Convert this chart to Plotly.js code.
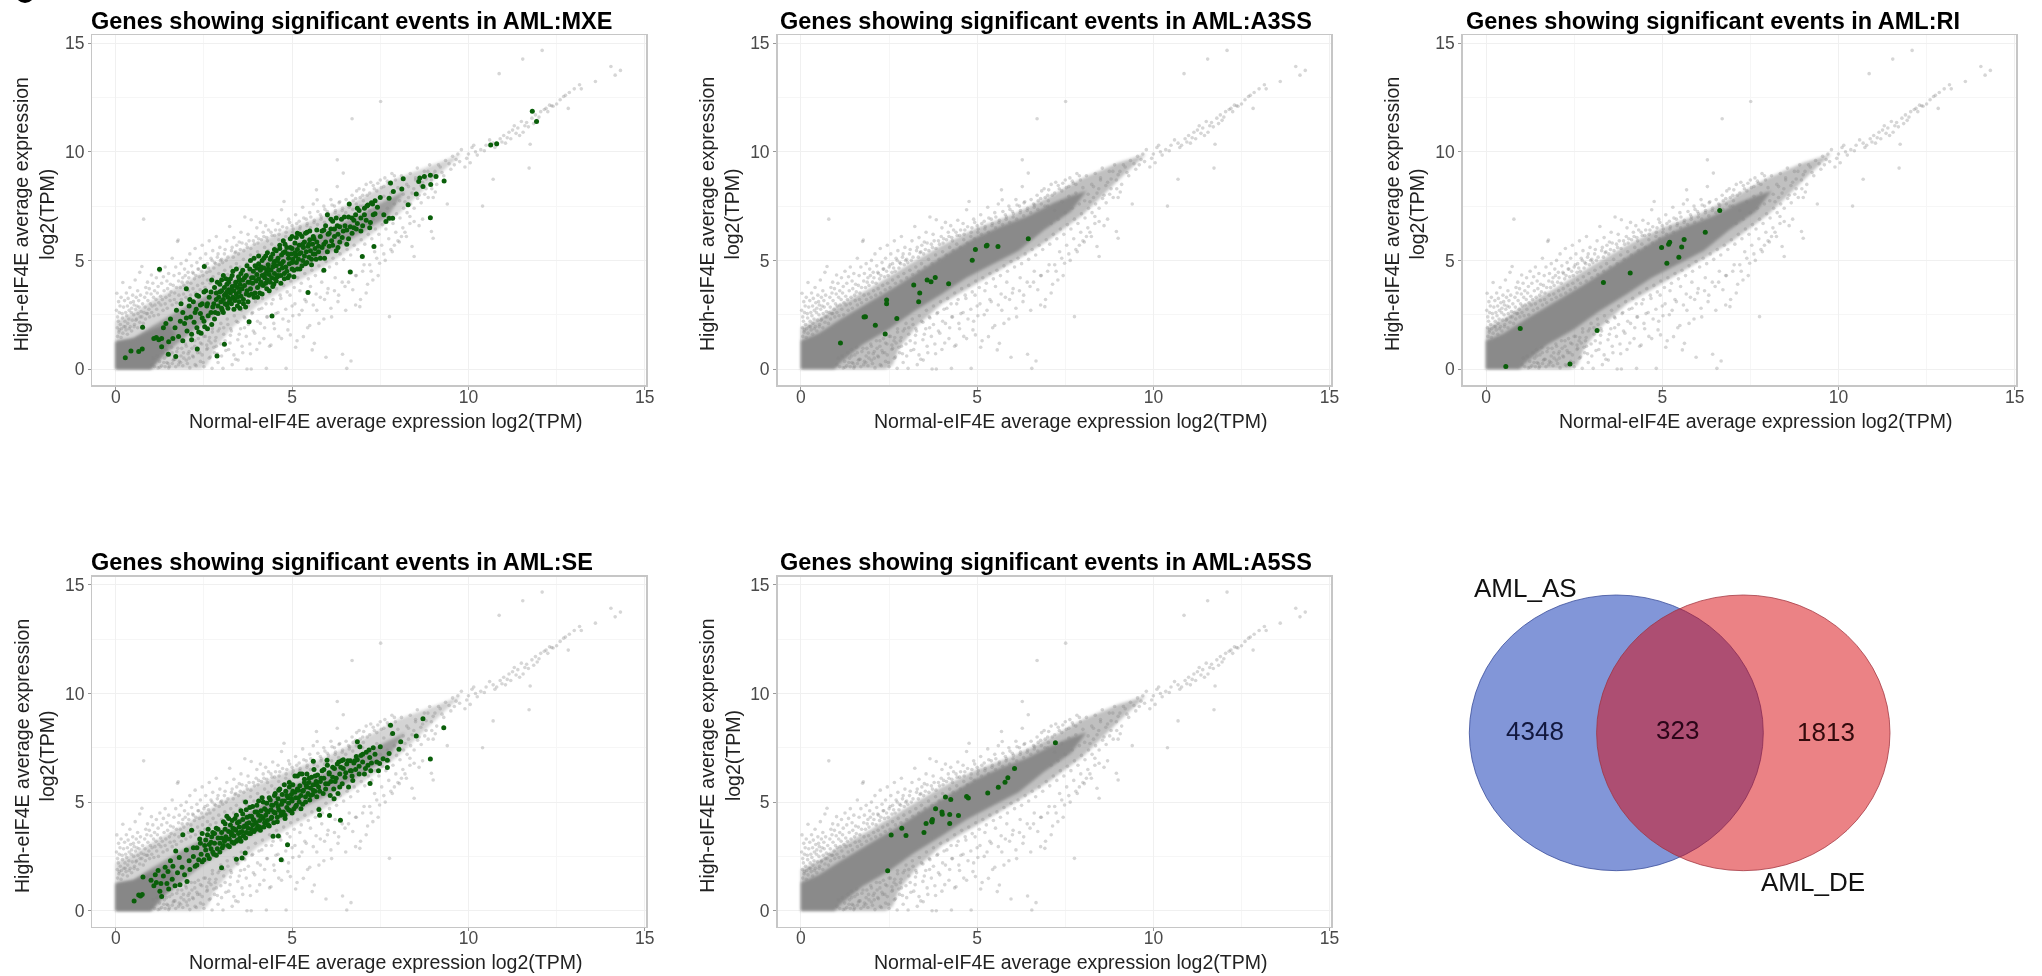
<!DOCTYPE html>
<html><head><meta charset="utf-8">
<script src="https://cdn.plot.ly/plotly-3.0.1.min.js"></script>
<style>html,body{margin:0;padding:0;background:#fff;overflow:hidden}#chart{width:2042px;height:976px;filter:blur(0.45px)}</style>
</head><body><div id="chart"></div>
<script>
// ---------- data ----------
const panelNames = ["MXE","A3SS","RI","SE","A5SS"];
const xAxisTitle = "Normal-eIF4E average expression log2(TPM)";
const yAxisTitle = "High-eIF4E average expression<br>log2(TPM)";
const tickValues = [0,5,10,15];

// background genes, shared by all five panels
const grayX = [
 .02,.03,.05,.08,.1,.12,.15,.18,.2,.22,.25,.28,.3,.33,.35,.38,.4,.42,.45,.48,.5,.52,.55,.58,.6,.62,.65,.68,.7,.74,.79,.82,.85,.88,.9,.95,1.0,1.01,1.05,1.1,1.15,1.2,1.25,1.3,1.35,1.4,1.45,1.5,1.55,1.6,1.65,1.7,1.75,1.77,1.8,1.85,1.9,1.95,2.0,2.05,2.1,2.15,2.2,2.25,2.3,2.35,2.4,2.45,2.5,2.55,2.6,2.65,2.7,2.75,2.8,2.85,2.9,2.95,
 3.0,3.1,3.15,3.23,3.3,3.35,3.4,3.5,3.55,3.66,3.7,3.75,3.84,3.9,4.0,4.05,4.1,4.2,4.25,4.3,4.4,4.45,4.5,4.6,4.65,4.7,4.77,4.85,4.9,5.0,5.1,5.2,5.3,5.4,5.5,5.6,5.69,5.71,5.8,5.9,6.0,6.1,6.2,6.28,6.28,6.35,6.45,6.6,6.7,6.8,6.9,7.0,7.1,7.2,7.3,7.4,7.5,7.6,7.7,7.8,7.9,
 1.2,1.3,1.4,1.45,1.5,1.6,1.65,1.7,1.8,1.85,1.9,2.0,2.05,2.1,2.2,2.25,2.3,2.4,2.45,2.5,2.6,2.65,2.7,2.73,2.8,2.85,2.9,3.0,3.04,3.1,3.2,3.25,3.3,3.4,3.47,3.5,3.6,3.65,3.72,3.8,3.84,3.9,4.0,4.1,4.2,4.27,4.3,4.4,4.5,4.6,4.7,4.83,4.9,4.95,5.0,5.1,5.2,5.32,5.4,5.5,5.57,5.63,5.7,5.8,5.9,5.96,6.0,6.1,6.2,6.3,6.43,6.5,6.55,6.6,6.67,6.8,6.8,6.92,7.0,7.1,7.2,7.29,7.4,7.48,7.6,7.76,7.8,7.9,8.0,8.1,8.2,8.34,8.4,8.46,8.46,8.6,8.7,8.95,9.0,
 8.1,8.2,8.3,8.35,8.4,8.5,8.55,8.6,8.7,8.75,8.8,8.9,8.95,9.0,9.05,9.1,9.2,9.3,9.35,9.4,9.5,9.55,9.6,9.7,9.75,9.8,9.9,9.95,10.05,10.1,10.2,10.35,10.4,10.5,10.7,10.7,10.8,10.87,10.9,11.0,11.05,11.15,11.2,11.3,11.35,11.4,11.5,11.54,11.55,11.6,11.65,11.72,11.75,11.8,11.9,12.0,12.05,12.09,12.15,12.25,12.3,12.36,12.4,12.6,12.7,12.75,12.83,12.86,13.0,13.15,13.2,13.6,14.04,14.16,14.31,7.51,6.7];
const grayY = [
 2.7,3.49,2.4,3.1,2.6,2.9,3.3,2.55,3.98,2.85,3.15,2.6,3.5,2.9,3.25,2.7,3.75,3.05,2.8,3.4,3.1,2.95,4.1,3.3,2.9,3.6,3.15,4.45,3.4,4.72,6.9,3.3,3.75,3.5,4.0,3.7,3.45,4.33,3.95,3.6,4.2,3.8,4.5,3.95,4.25,4.7,4.05,4.4,3.9,5.1,4.3,4.7,5.87,5.94,4.4,4.85,4.2,4.6,5.0,4.45,5.3,4.75,4.4,5.55,4.9,4.6,5.1,5.7,4.7,5.3,4.85,5.9,5.1,5.45,4.9,6.1,5.3,5.6,
 5.05,5.5,5.9,6.56,5.6,6.05,5.4,5.85,6.3,7.0,5.75,6.2,6.87,5.9,6.5,6.0,6.75,6.1,6.6,5.9,6.3,6.85,6.15,6.7,6.4,7.33,7.71,6.5,6.9,6.6,7.1,6.8,7.45,6.9,7.2,7.6,8.25,7.79,7.1,7.5,7.25,7.8,7.5,9.63,8.4,7.7,9.02,7.6,8.0,7.85,8.3,8.0,8.5,8.1,8.45,8.2,8.7,8.4,8.65,8.5,8.9,
 .05,.15,.1,.3,.05,.25,.45,.1,.35,.6,.15,.4,.7,.05,.55,.2,.85,.35,.65,.1,.95,.5,1.2,.03,.75,1.05,.3,.6,.03,1.3,.9,1.55,.2,.45,.41,1.6,.75,1.9,0,1.15,0,1.75,.9,2.1,1.4,.03,2.4,1.1,1.85,2.6,1.4,.03,2.2,1.57,2.9,1.0,2.5,1.49,3.1,2.0,.88,1.18,2.7,3.3,2.3,.54,3.5,2.8,3.6,3.1,.68,3.8,.03,4.0,.37,2.95,4.3,2.87,4.5,3.5,4.8,4.1,5.1,4.87,5.3,2.41,5.5,5.7,5.9,6.1,6.3,7.02,5.64,5.18,6.79,6.6,6.9,6.33,6.02,
 8.9,7.7,8.4,9.0,8.1,8.7,9.25,8.0,8.6,9.1,8.3,9.4,8.7,7.9,9.1,8.5,9.3,8.9,9.6,7.6,9.2,9.8,9.4,9.9,9.55,10.1,9.3,9.7,9.5,10.2,10.0,10.1,7.5,10.3,8.74,10.4,10.3,13.6,10.6,10.75,10.4,10.9,10.6,11.2,10.85,11.1,11.4,14.27,10.9,11.2,11.35,9.25,10.35,11.55,11.7,11.6,11.85,14.67,11.95,11.85,12.15,12.12,12.1,12.4,12.55,12.6,12.0,12.73,12.9,13.09,12.9,13.24,13.93,13.53,13.75,12.32,11.52];
// more background genes: above the band
const grayAboveX = [.04,.07,.09,.13,.16,.19,.23,.26,.29,.31,.34,.37,.41,.44,.47,.51,.53,.56,.59,.63,.66,.69,.72,.76,.8,.83,.87,.91,.94,.98,1.03,1.07,1.11,1.14,1.18,1.22,1.27,1.32,1.37,1.42,1.47,1.52,1.57,1.63,1.67,1.72,1.78,1.83,1.88,1.93,1.97,2.03,2.07,2.13,2.18,2.23,2.27,2.33,2.37,2.43,2.47,2.53,2.58,2.63,2.67,2.73,2.78,2.83,2.88,2.93,2.97,3.03,3.08,3.13,3.18,3.28,3.33,3.38,3.43,3.48,3.53,3.58,3.63,3.73,3.78,3.83,3.93,3.98,4.03,4.13,4.18,4.28,4.33,4.43,4.53,4.63,4.73,4.83,4.93,5.03,5.13,5.23,5.33,5.43,5.53,5.63,5.73,5.83,5.93,6.03,6.13,6.23,6.33,6.43,6.53,6.63,6.73,6.83,6.93,7.03,7.13,7.23,7.33,7.43,7.53,7.63,7.73,7.83,7.93];
const grayAboveY = [1.9,2.2,1.7,2.05,1.85,2.35,1.95,2.2,1.8,2.45,2.1,2.3,1.95,2.6,2.25,2.5,2.05,2.75,2.3,2.55,2.85,2.4,2.65,3.0,2.6,2.85,2.55,3.15,2.75,3.0,2.9,3.3,2.95,3.2,3.5,3.05,3.35,3.2,3.6,3.3,3.7,3.4,3.55,3.85,3.5,3.75,4.05,3.75,4.0,3.85,4.3,4.0,4.2,3.95,4.45,4.15,4.3,4.6,4.25,4.5,4.3,4.8,4.45,4.65,4.5,5.0,4.65,4.85,5.15,4.8,5.0,4.9,5.3,5.0,5.15,5.45,5.15,5.35,5.7,5.3,5.5,5.8,5.45,5.6,5.9,5.55,5.75,6.1,5.8,5.95,6.3,6.05,6.4,6.15,6.4,6.2,6.55,6.3,6.75,6.45,6.7,6.55,6.95,6.7,7.0,6.85,7.25,7.0,7.35,7.15,7.55,7.3,7.65,7.4,7.8,7.55,7.75,8.2,7.9,8.25,8.0,8.6,8.3,8.55,8.35,8.8,8.55,9.0,8.7];
// below the band
const grayBelowX = [1.02,1.06,1.1,1.17,1.24,1.33,1.38,1.43,1.48,1.53,1.58,1.63,1.73,1.78,1.87,1.93,1.98,2.03,2.08,2.14,2.18,2.24,2.28,2.34,2.38,2.44,2.48,2.54,2.58,2.64,2.68,2.74,2.78,2.84,2.88,2.94,2.98,3.06,3.12,3.18,3.24,3.28,3.35,3.42,3.46,3.54,3.58,3.64,3.7,3.76,3.82,3.88,3.94,4.02,4.08,4.14,4.22,4.28,4.36,4.42,4.48,4.54,4.62,4.68,4.74,4.82,4.88,4.94,5.02,5.08,5.14,5.22,5.28,5.36,5.44,5.52,5.6,5.68,5.76,5.84,5.92,6.02,6.12,6.22,6.32,6.42,6.52,6.62,6.72,6.82,6.94,7.04,7.14,7.24,7.34,7.44,7.54,7.64,7.74,7.84,7.94,8.04,8.14,8.24,8.34];
const grayBelowY = [.2,.5,.1,.6,.35,.75,.5,.9,.25,.65,1.0,.4,.8,.2,.95,.5,1.15,.25,.8,1.3,.6,1.05,.15,1.4,.75,1.15,.3,1.5,.9,1.3,.55,1.7,1.0,1.45,.7,1.85,1.15,1.6,.85,2.05,1.2,1.75,.65,2.2,1.35,1.85,1.05,2.4,1.5,2.05,.7,2.6,1.65,2.2,1.2,2.8,1.9,2.4,1.05,3.0,2.1,2.55,1.5,3.25,2.3,2.75,1.8,3.4,2.45,3.0,1.3,3.6,2.7,3.2,1.9,3.8,2.95,3.45,2.1,4.0,3.2,3.7,2.4,4.2,3.4,4.0,2.7,4.5,3.65,4.3,3.2,4.8,3.9,4.5,5.4,4.3,5.7,5.0,6.0,5.4,6.3,5.85,6.5,6.1,6.7];
// along the thin tail of the band
const grayTailX = [7.0,7.1,7.2,7.3,7.4,7.5,7.6,7.7,7.8,7.9,8.0,8.05,8.15,8.25,8.3,8.45,8.5,8.65,8.8,8.85,9.0,9.15,9.25,9.45,9.65,10.0,10.15,10.25,10.45,10.6,10.75,10.95,11.1,11.25,11.45,11.7,11.85,11.95,12.2,12.5];
const grayTailY = [7.5,6.7,7.3,6.9,7.7,7.2,7.95,7.4,8.1,7.6,8.35,7.75,8.05,8.5,7.9,8.3,8.8,8.45,8.75,9.1,8.95,9.4,9.05,9.45,9.65,9.9,10.3,9.85,10.05,10.55,10.2,10.45,10.65,11.0,10.75,11.15,11.3,11.45,12.0,12.2];
// hugging the upper and lower rim of the band
const grayUpperRimX = [.05,.1,.15,.2,.27,.33,.38,.45,.52,.57,.62,.68,.74,.78,.84,.9,.96,1.02,1.08,1.16,1.21,1.28,1.34,1.4,1.46,1.54,1.6,1.66,1.72,1.79,1.86,1.92,1.99,2.06,2.12,2.19,2.26,2.32,2.39,2.46,2.53,2.6,2.68,2.76,2.84,2.92,3.0,3.09,3.17,3.26,3.34,3.42,3.52,3.62,3.72,3.82,3.92,4.02,4.12,4.22,4.32,4.42,4.52,4.62,4.72,4.82,4.92,5.02,5.12,5.22,5.32,5.42,5.52,5.62,5.72,5.82,5.92,6.02,6.12,6.22,6.32,6.42,6.52,6.62,6.72,6.82,6.92,7.02];
const grayUpperRimY = [1.5,1.8,1.45,1.65,1.95,1.6,1.85,1.75,1.95,2.25,1.9,2.15,2.4,2.1,2.3,2.55,2.4,2.6,2.45,2.75,2.5,2.95,2.7,3.0,2.8,3.15,2.95,3.2,3.05,3.4,3.2,3.45,3.3,3.6,3.4,3.7,3.5,3.85,3.65,3.95,3.75,4.1,3.95,4.25,4.05,4.4,4.2,4.55,4.35,4.7,4.5,4.85,4.7,5.05,4.85,5.25,5.05,5.4,5.25,5.6,5.45,5.75,5.6,5.95,5.8,6.1,6.0,6.3,6.2,6.45,6.3,6.6,6.5,6.75,6.65,6.9,6.75,7.0,6.9,7.2,7.05,7.3,7.2,7.45,7.35,7.6,7.5,7.75];
const grayLowerRimX = [1.25,1.36,1.44,1.52,1.6,1.68,1.76,1.84,1.92,2.0,2.08,2.16,2.24,2.32,2.4,2.5,2.58,2.66,2.74,2.82,2.9,2.98,3.06,3.16,3.26,3.36,3.46,3.56,3.66,3.76,3.86,3.96,4.06,4.16,4.26,4.36,4.46,4.56,4.66,4.76,4.86,4.96,5.06,5.16,5.26,5.36,5.46,5.56,5.66,5.76,5.86,5.96,6.06,6.16,6.26,6.36,6.46,6.56,6.66,6.76,6.86,6.96,7.06,7.16,7.26,7.36,7.46,7.56,7.66,7.76,7.86,7.96,8.06,8.16,8.26,8.36,8.46,8.56,8.66,8.76,8.86,8.96,9.06];
const grayLowerRimY = [.08,.3,.6,.12,.75,.45,.95,.3,.75,1.05,.5,.95,1.3,.75,1.2,1.5,1.1,1.45,1.85,1.3,1.75,2.1,1.9,2.3,1.85,2.45,2.15,2.7,2.35,2.9,2.55,3.1,2.75,3.25,3.0,3.5,3.2,3.7,3.4,3.85,3.55,4.05,3.75,4.2,3.95,4.4,4.15,4.55,4.3,4.75,4.5,4.95,4.7,5.1,4.85,5.3,5.05,5.5,5.25,5.7,5.5,5.95,5.75,6.2,6.0,6.45,6.2,6.65,6.45,6.9,6.7,7.15,6.95,7.4,7.2,7.6,7.4,7.85,7.65,8.05,7.9,8.3,8.15];

// outlines of the densely overplotted band (panels A3SS, RI, A5SS)
const denseCoreX = [0,.5,1.13,2,2.73,3.47,4.2,4.95,5.7,6.43,7.17,7.7,8.1,7.66,6.9,6.18,5.44,4.7,4,3.2,2.49,1.75,1.13,.95,0];
const denseCoreY = [1.3,1.65,2.3,3.15,3.85,4.62,5.35,6.05,6.6,7.05,7.65,8.0,8.2,7.25,6.4,5.45,4.82,4.2,3.45,2.65,1.82,1.13,.3,0,0];
const denseHaloX = [0,.5,1,2,3,4,5,6,7,8,9,9.8,9.2,8,7,6,5,4,3.3,2.8,2.6,2.4,0];
const denseHaloY = [1.9,2.3,2.85,3.75,4.75,5.7,6.5,7.1,7.9,8.8,9.5,9.9,9.0,7.1,5.9,4.9,3.95,3,2,1,.2,0,0];
// outlines of the thinner band (panels MXE, SE)
const thinCoreX = [0,.5,1,2,3,4,5,6,7,7.7,8.2,7.7,7,6,5,4,3,2.3,1.7,1.2,1,0];
const thinCoreY = [1.25,1.4,1.95,2.9,3.75,4.75,5.75,6.4,7.2,7.8,8.2,7,6.3,5.3,4.5,3.6,2.7,1.9,1.1,.35,0,0];
const thinBaseX = [0,0,.5,1,1.5,1.7,1.3,1,0];
const thinBaseY = [0,1.25,1.4,1.8,2.1,1.6,.6,0,0];
const thinHaloX = [0,.5,1,2,3,4,5,6,7,8,9,9.8,9.2,8,7,6,5,4,3.3,2.8,2.6,2.4,0];
const thinHaloY = [2.2,2.6,3.1,4,5,5.8,6.5,7.1,7.9,8.8,9.4,9.9,9.0,7.1,5.9,4.8,3.9,2.9,1.9,.9,.2,0,0];

// significant genes per panel
const mxeX = [11.81,11.93,10.63,10.8,9.31,9.08,8.92,8.75,8.62,8.59,8.93,8.71,8.52,8.92,8.15,8.11,7.79,7.87,7.75,8.29,7.85,7.75,7.66,7.6,7.32,6.99,6.65,5.9,5.45,4.43,3.78,1.24,2.51,2.87,3.08,2.31,.76,.27,.43,.65,.75,1.7,1.49,1.3,
 1.08,1.15,1.22,1.3,1.35,1.42,1.5,1.55,1.62,1.68,1.72,1.78,1.83,1.85,1.9,1.95,2.0,2.02,2.08,2.12,2.15,2.2,2.22,2.28,2.3,2.35,2.4,2.42,2.45,2.5,2.55,2.58,2.6,2.65,2.7,2.72,2.78,2.8,
 2.85,2.88,2.9,2.92,2.95,2.98,3.0,3.02,3.05,3.05,3.08,3.1,3.12,3.15,3.15,3.18,3.2,3.22,3.25,3.25,3.28,3.3,3.32,3.32,3.35,3.38,3.4,3.42,3.45,3.45,3.48,3.5,3.5,3.52,3.55,3.55,3.58,3.6,3.62,3.65,3.68,3.7,3.72,3.75,3.78,
 3.8,3.82,3.85,3.88,3.9,3.92,3.95,3.98,4.0,4.02,4.05,4.05,4.08,4.1,4.12,4.15,4.15,4.18,4.2,4.22,4.25,4.25,4.28,4.3,4.32,4.35,4.35,4.38,4.4,4.42,4.45,4.45,4.48,4.5,4.5,4.52,4.55,4.55,4.58,4.6,4.62,4.65,4.65,4.68,4.7,4.72,4.75,4.75,4.78,4.8,
 4.82,4.85,4.88,4.9,4.92,4.95,4.98,5.0,5.0,5.02,5.05,5.08,5.1,5.12,5.15,5.15,5.18,5.2,5.22,5.25,5.28,5.3,5.32,5.35,5.38,5.4,5.42,5.45,5.48,5.5,5.52,5.55,5.58,5.6,5.62,5.65,5.68,5.7,
 5.75,5.8,5.85,5.9,5.92,5.95,6.0,6.02,6.05,6.1,6.12,6.15,6.2,6.25,6.28,6.3,6.35,6.4,6.45,6.5,6.55,6.6,6.62,6.65,6.7,6.75,6.8,6.82,6.85,6.9,6.95,7.0,7.05,7.1,7.15,7.2,7.25,7.3,7.35,7.42,7.5,
 1.9,2.0,2.1,2.15,2.25,2.3,2.35,2.4,2.45,2.5,2.52,2.6,2.62,2.7,2.72,2.75,2.8,2.82,2.85,2.9,2.95,3.0,3.0,3.05,3.08,3.12,3.15,3.18,3.2,3.25,3.28,3.3,3.35,3.38,3.42,3.45,3.5,3.52,3.55,3.6,3.62,3.65,3.7,3.72,3.75,3.8,3.82,3.85,3.9,3.92,3.95,4.0,4.02,4.05,4.1,4.12,4.15,4.2,4.22,4.28,4.3,4.32,4.38,4.4,4.45,4.48,4.5,4.55,4.58,4.6,4.65,4.68,4.7,4.75,4.78,4.8,4.85,4.88,4.92,4.95,5.0,5.0,5.05,5.08,5.12,5.15,5.2,5.22,5.28,5.3,5.35,5.38,5.42,5.48,5.5,5.55,5.6,5.65,5.7,5.75,5.8,5.85,5.9,5.95,6.0,6.05,6.1,6.15,6.2,6.25,6.3,6.35,6.42,6.48,6.55,6.6,6.7,6.75,6.85,6.95,7.05,7.12,7.22,7.28,7.35];
const mxeY = [11.87,11.4,10.32,10.37,8.66,8.86,8.92,8.86,8.79,8.63,8.49,8.4,8.06,6.97,8.76,8.29,8.56,8.17,7.86,7.56,6.94,6.94,6.79,7.1,5.64,5.18,4.47,4.55,3.52,2.44,2.18,4.59,4.72,.6,1.14,.92,1.92,.52,.83,.8,.92,.57,.68,1.03,
 1.4,1.45,1.35,1.4,1.9,2.1,1.25,2.3,1.4,1.9,2.7,1.5,2.2,3.0,2.6,2.1,3.7,1.75,2.9,2.4,1.6,3.1,2.15,2.75,1.9,3.35,2.55,1.65,3.0,2.2,3.6,2.9,1.85,3.3,2.6,4.1,3.0,2.3,
 3.5,4.0,2.9,3.3,3.9,3.1,3.6,2.7,3.2,4.3,3.75,3.0,3.45,3.9,2.95,3.3,3.65,3.1,4.15,3.5,3.0,3.8,3.3,4.5,3.6,3.15,4.0,3.45,3.75,2.9,4.25,3.55,3.1,3.9,4.4,3.35,3.7,4.1,3.2,3.85,2.85,4.3,3.6,4.0,3.4,
 4.6,3.7,4.2,3.95,4.5,3.3,4.75,4.05,4.35,3.75,4.85,4.15,3.5,4.55,4.0,5.0,4.3,3.85,4.65,4.2,5.2,3.95,4.5,4.1,4.8,4.35,3.6,5.05,4.55,4.2,5.3,4.7,3.9,4.95,4.4,4.15,5.45,4.75,4.25,5.1,4.55,5.7,4.85,4.3,5.25,4.65,5.9,4.95,4.4,5.4,
 4.7,5.6,4.2,5.1,4.85,6.0,5.3,4.6,5.55,5.05,4.25,5.8,5.2,4.9,6.25,5.5,5.05,5.7,4.6,5.35,6.1,5.0,5.6,5.85,4.85,5.4,6.3,5.65,5.15,5.95,5.45,4.8,5.75,5.3,6.0,5.55,5.05,5.85,
 5.4,6.1,5.6,6.4,5.1,5.85,7.1,6.2,5.65,6.45,5.9,6.8,6.1,5.45,6.6,6.2,5.85,6.9,6.35,6.6,5.75,7.0,7.6,6.55,6.25,6.85,7.1,6.45,6.7,7.3,6.95,6.6,7.4,6.85,7.55,6.5,7.65,7.1,7.75,7.45,7.9,
 1.3,2.35,3.2,1.35,2.6,3.4,1.7,2.95,2.35,3.55,1.95,3.0,2.45,3.55,2.05,2.85,3.75,2.6,3.2,2.55,3.55,2.8,4.1,2.6,3.4,4.15,3.55,2.8,4.0,3.2,3.65,4.3,2.75,3.85,4.6,3.3,4.1,2.8,3.7,4.55,3.0,4.2,3.45,4.75,3.1,4.0,5.0,3.45,4.2,5.1,3.5,4.65,3.3,5.2,3.9,4.7,3.45,5.1,4.35,3.7,5.35,4.6,4.0,5.15,3.8,4.85,5.5,4.05,5.0,4.3,5.55,3.95,4.85,5.35,4.15,5.75,4.5,5.3,4.3,5.6,4.9,6.1,4.55,5.35,6.05,4.6,5.3,6.2,4.75,5.75,5.2,6.25,4.9,5.75,6.35,5.05,6.1,5.3,6.4,5.65,5.1,6.35,5.75,6.6,5.4,6.25,6.9,5.7,6.45,6.95,5.6,6.55,6.05,7.0,6.4,6.0,6.95,6.5,7.4,6.35,7.1,7.5,6.75,7.6,7.15];
const a3ssX = [1.12,1.79,1.83,2.11,2.39,2.43,2.43,2.72,3.2,3.37,3.34,3.58,3.69,3.81,4.19,4.86,4.95,5.26,5.28,5.59,6.45];
const a3ssY = [1.2,2.4,2.41,2.01,1.61,3.18,3.01,2.33,3.87,3.5,3.1,4.1,4.02,4.21,3.92,5.01,5.5,5.66,5.7,5.64,6.0];
const riX = [.56,.97,2.38,3.15,3.33,4.09,4.98,5.13,5.18,5.21,5.47,5.55,5.62,6.22,6.63];
const riY = [.12,1.87,.23,1.77,3.98,4.42,5.59,4.87,5.74,5.84,5.15,5.62,5.96,6.3,7.3];
const seX = [9.3,8.92,8.71,8.52,8.08,8.03,7.79,7.85,7.75,7.7,7.7,7.48,7.45,7.23,7.21,6.85,6.92,5.99,5.6,6.37,6.06,5.78,5.76,6.19,4.87,4.69,4.61,4.46,3.67,3.58,3.42,3.0,.52,.65,.7,.75,.77,
 1.0,1.08,1.12,1.15,1.2,1.25,1.28,1.3,1.35,1.4,1.45,1.48,1.5,1.55,1.6,1.62,1.68,1.7,1.75,1.8,1.82,1.88,1.9,1.95,2.0,2.02,2.08,2.1,2.15,2.2,2.25,2.3,2.35,2.38,2.42,2.45,2.5,2.52,2.55,2.6,2.62,2.65,2.7,2.72,2.75,2.78,2.8,2.85,2.88,2.9,2.95,
 3.0,3.02,3.05,3.08,3.1,3.12,3.15,3.18,3.2,3.22,3.25,3.28,3.3,3.32,3.35,3.38,3.4,3.42,3.45,3.48,3.5,3.52,3.55,3.58,3.6,3.62,3.65,3.68,3.7,3.72,3.75,3.78,3.8,3.82,3.85,3.88,3.9,3.92,3.95,3.98,4.0,4.02,4.05,4.08,4.1,4.12,4.15,4.18,4.2,4.22,4.25,4.28,4.3,4.32,4.35,4.38,4.4,4.42,4.45,4.48,4.5,4.52,4.55,4.58,4.6,4.62,4.65,4.68,4.7,4.72,4.75,4.78,4.8,4.82,4.85,4.88,4.9,4.92,4.95,4.98,5.0,5.02,5.05,5.08,5.1,5.12,5.15,5.18,5.2,5.22,5.25,5.28,5.3,
 5.32,5.35,5.38,5.4,5.42,5.45,5.48,5.5,5.52,5.55,5.58,5.6,5.62,5.65,5.68,5.7,5.72,5.75,5.8,5.85,5.88,5.9,5.95,6.0,6.02,6.05,6.1,6.15,6.18,6.2,6.25,6.3,6.32,6.35,6.4,6.42,6.45,6.5,6.55,6.6,6.65,6.68,6.7,6.75,6.8,6.85,6.9,6.95,7.0,7.05,7.1,7.15,7.2,7.3,7.4,
 2.2,2.3,2.4,2.45,2.55,2.6,2.65,2.7,2.75,2.8,2.85,2.9,2.95,3.0,3.05,3.1,3.15,3.2,3.22,3.28,3.3,3.35,3.38,3.42,3.45,3.5,3.52,3.55,3.6,3.62,3.68,3.7,3.72,3.78,3.8,3.85,3.88,3.92,3.98,4.0,4.05,4.08,4.12,4.18,4.22,4.28,4.32,4.35,4.4,4.42,4.48,4.52,4.58,4.6,4.62,4.68,4.72,4.78,4.8,4.85,4.9,4.92,4.98,5.0,5.02,5.08,5.1,5.15,5.18,5.22,5.25,5.3,5.35,5.38,5.42,5.48,5.52,5.6,5.65,5.7,5.78,5.82,5.9,5.95,6.05,6.08,6.15,6.22,6.28,6.35,6.38,6.45,6.52,6.58,6.65,6.72,6.78,6.82,6.9,7.0,7.08,7.18,7.25,7.35,7.5,7.58];
const seY = [8.42,6.98,8.84,8.05,7.78,7.44,8.54,8.16,7.24,6.93,6.59,6.78,6.44,6.44,5.86,7.78,7.55,6.93,6.88,4.16,4.38,4.4,4.66,5.16,3.04,2.35,3.44,3.43,2.66,2.43,2.37,1.98,.45,.72,.68,.75,1.55,
 1.4,1.15,1.65,1.3,1.85,.9,1.25,.65,1.6,2.0,1.25,1.8,1.0,2.3,1.45,2.05,1.15,2.75,1.75,2.45,1.2,2.0,3.5,1.65,2.8,1.35,2.3,1.9,3.7,2.5,2.05,2.9,2.35,3.3,2.6,3.55,2.35,3.0,3.25,2.55,3.75,3.05,2.85,3.4,3.6,2.6,3.1,3.8,2.85,3.35,3.1,
 3.6,2.9,4.1,3.2,3.75,3.4,4.35,3.0,3.65,3.3,3.95,3.5,3.15,3.8,3.45,4.25,3.7,3.2,4.05,3.55,3.85,3.35,4.6,3.65,4.2,3.45,3.9,5.0,3.6,4.3,3.8,4.05,4.75,3.55,4.35,3.95,4.2,3.65,4.55,4.05,4.85,3.9,4.4,4.15,3.7,4.6,5.2,4.25,3.85,4.7,4.4,4.95,4.15,4.55,3.9,5.1,4.65,4.3,4.85,4.05,5.3,4.5,4.95,4.3,5.15,4.65,5.6,4.4,4.9,5.35,4.55,5.05,4.25,5.5,4.75,5.2,4.95,5.7,4.6,5.35,5.05,5.8,4.7,5.45,5.2,4.85,6.2,5.55,5.0,5.75,5.3,6.3,4.9,
 5.55,6.05,5.25,5.75,6.3,5.4,5.9,5.1,5.65,6.15,5.35,5.8,6.5,5.5,5.95,5.25,6.25,5.7,5.95,6.45,5.4,6.1,5.6,6.7,5.85,6.3,5.95,6.15,5.6,6.55,6.1,5.4,6.85,6.3,6.9,5.85,6.55,6.15,6.75,5.7,6.9,6.45,6.2,6.8,6.5,6.95,6.65,7.15,6.85,6.3,7.3,6.7,7.05,7.5,6.85,
 2.9,2.1,3.1,2.25,2.8,3.5,2.4,3.15,2.7,3.55,2.55,3.75,2.7,3.35,3.0,4.0,3.3,4.25,2.95,3.6,4.15,3.1,3.75,4.4,3.25,4.1,3.6,3.2,4.45,3.85,3.35,4.65,4.0,3.55,4.35,3.75,4.8,4.15,3.75,4.55,5.05,3.85,4.35,5.0,4.05,4.6,3.95,5.2,4.25,4.85,4.55,5.4,4.1,4.8,5.55,4.55,5.05,5.8,4.4,5.3,4.65,5.9,5.15,4.5,5.5,6.2,4.8,5.6,5.2,6.3,4.7,5.5,5.9,5.0,5.7,6.1,5.3,5.55,6.2,5.8,5.5,6.1,6.5,5.85,6.35,5.3,6.6,5.95,6.75,5.7,6.6,6.95,6.35,6.9,6.45,6.0,6.9,7.1,6.3,7.2,6.55,7.4,6.8,7.2,7.55,7.0];
const a5ssX = [2.46,2.56,2.86,2.98,3.49,3.55,3.71,3.73,3.72,3.82,4.0,4.01,4.1,4.22,4.22,4.25,4.47,4.7,4.75,5.3,5.6,5.79,5.87,6.06,7.22];
const a5ssY = [1.84,3.49,3.8,3.46,3.6,4.01,4.13,4.2,4.09,4.69,4.55,4.44,5.24,4.01,4.43,5.12,4.38,5.26,5.19,5.42,5.69,5.92,6.12,6.55,7.73];

// Venn diagram
const vennSets = ["AML_AS","AML_DE"];
const vennCounts = [4348,323,1813];

// ---------- layout (page pixels) ----------
const W = 2042, H = 976;
const frames = [
 {l:92.4,r:646.2,t:35,b:385, titleX:88.9, titleY:20.7, xtX:385, xtY:420.7, ytX:33.8},
 {l:777.6,r:1331,t:35,b:385, titleX:778, titleY:20.7, xtX:1070.5, xtY:420.7, ytX:719.5},
 {l:1462.7,r:2016.1,t:35,b:385, titleX:1463.6, titleY:20.7, xtX:1755.7, xtY:420.7, ytX:1404.5},
 {l:92.4,r:646.2,t:576.7,b:926.7, titleX:88.9, titleY:561.7, xtX:385, xtY:961.7, ytX:33.8},
 {l:777.6,r:1331,t:576.7,b:926.7, titleX:778, titleY:561.7, xtX:1070.5, xtY:961.7, ytX:719.5}
];
const allGrayX = grayX.concat(grayAboveX,grayBelowX,grayTailX,grayUpperRimX,grayLowerRimX);
const allGrayY = grayY.concat(grayAboveY,grayBelowY,grayTailY,grayUpperRimY,grayLowerRimY);
const greens = [[mxeX,mxeY],[a3ssX,a3ssY],[riX,riY],[seX,seY],[a5ssX,a5ssY]];
const thin = [true,false,false,true,false];
const sans = "'Liberation Sans',Arial,sans-serif";
const px = v => v/W, py = v => 1-v/H;

const traces = [], annotations = [], layout = {
  width:W, height:H, margin:{l:0,r:0,t:0,b:0}, paper_bgcolor:"#fff", plot_bgcolor:"#fff",
  showlegend:false, hovermode:false
};
function area(x,y,fill,xa,ya){ traces.push({type:"scatter",mode:"lines",x,y,xaxis:xa,yaxis:ya,fill:"toself",fillcolor:fill,line:{width:0},hoverinfo:"skip"}); }

frames.forEach((f,i)=>{
  const n = i+1, xa = "x"+n, ya = "y"+n;
  const axCommon = {showline:true,mirror:true,linecolor:"#c6c6c6",linewidth:1.5,showgrid:true,gridcolor:"#f0f0f0",gridwidth:1,
    minor:{dtick:2.5,showgrid:true,gridcolor:"#f6f6f6",gridwidth:1,ticks:""},
    zeroline:false,tickmode:"array",tickvals:tickValues,ticks:"outside",ticklen:3,tickcolor:"#999",tickwidth:1,
    tickfont:{family:sans,size:17.5,color:"#4a4a4a"}};
  layout["xaxis"+(n)] = Object.assign({},axCommon,{domain:[px(f.l),px(f.r)],range:[-.663,15.04],anchor:ya,ticklabelstandoff:-8});
  layout["yaxis"+(n)] = Object.assign({},axCommon,{domain:[py(f.b),py(f.t)],range:[-.737,15.38],anchor:xa});
  if(thin[i]){
    area(thinHaloX,thinHaloY,"rgba(160,160,160,0.45)",xa,ya);
    area(thinCoreX,thinCoreY,"rgba(135,135,135,0.7)",xa,ya);
    area(thinBaseX,thinBaseY,"rgb(135,135,135)",xa,ya);
  } else {
    area(denseHaloX,denseHaloY,"rgba(140,140,140,0.55)",xa,ya);
    area(denseCoreX,denseCoreY,"rgb(138,138,138)",xa,ya);
  }
  traces.push({type:"scatter",mode:"markers",x:allGrayX,y:allGrayY,xaxis:xa,yaxis:ya,
    marker:{size:3.6,color:"rgba(130,130,130,0.33)",line:{width:0}},hoverinfo:"skip"});
  traces.push({type:"scatter",mode:"markers",x:greens[i][0],y:greens[i][1],xaxis:xa,yaxis:ya,name:panelNames[i],
    marker:{size:5,color:"#0a5f0a",line:{width:0}}});

  annotations.push({text:"<b>Genes showing significant events in AML:"+panelNames[i]+"</b>",xref:"paper",yref:"paper",x:px(f.titleX),y:py(f.titleY),
    xanchor:"left",yanchor:"middle",showarrow:false,font:{family:sans,size:23.5,color:"#000"}});
  annotations.push({text:xAxisTitle,xref:"paper",yref:"paper",x:px(f.xtX),y:py(f.xtY),xanchor:"center",yanchor:"middle",showarrow:false,
    font:{family:sans,size:19.5,color:"#222"}});
  annotations.push({text:yAxisTitle,xref:"paper",yref:"paper",x:px(f.ytX),y:py(f.t+179.5),xanchor:"center",yanchor:"middle",textangle:-90,showarrow:false,
    font:{family:sans,size:19.5,color:"#222"}});
});

// Venn on its own pair of hidden axes (1 unit = 1 page pixel)
layout.xaxis6 = {domain:[px(1440),px(1920)],range:[0,480],visible:false,anchor:"y6"};
layout.yaxis6 = {domain:[py(930),py(550)],range:[380,0],visible:false,anchor:"x6"};
traces.push({type:"scatter",mode:"markers",x:[0],y:[0],xaxis:"x6",yaxis:"y6",marker:{opacity:0},hoverinfo:"skip"});
layout.shapes = [
 {type:"circle",xref:"x6",yref:"y6",x0:29.3,x1:323.3,y0:45,y1:320.7,fillcolor:"rgba(5,45,177,0.5)",line:{color:"rgba(50,70,150,0.75)",width:1}},
 {type:"circle",xref:"x6",yref:"y6",x0:156.6,x1:450,y0:45,y1:320.7,fillcolor:"rgba(215,5,11,0.5)",line:{color:"rgba(160,50,60,0.75)",width:1}},
 {type:"circle",xref:"paper",yref:"paper",x0:px(15),x1:px(35),y0:py(3),y1:py(-17),fillcolor:"#000",line:{width:0}}
];
[[95,181,vennCounts[0],"#12183f"],[237.7,180,vennCounts[1],"#2b0518"],[385.7,182,vennCounts[2],"#330a0c"]].forEach(a=>{
  annotations.push({text:String(a[2]),xref:"x6",yref:"y6",x:a[0],y:a[1],showarrow:false,xanchor:"center",yanchor:"middle",font:{family:sans,size:26,color:a[3]}});
});
[[85,38,vennSets[0]],[373,332,vennSets[1]]].forEach(a=>{
  annotations.push({text:a[2],xref:"x6",yref:"y6",x:a[0],y:a[1],showarrow:false,xanchor:"center",yanchor:"middle",font:{family:sans,size:26,color:"#111"}});
});
layout.annotations = annotations;
Plotly.newPlot("chart",traces,layout,{staticPlot:true,displayModeBar:false}).then(gd=>{
  // soften the outlines of the overplotted band, whose edge is grainy in the reference
  gd.querySelectorAll(".js-fill").forEach(p=>{p.style.filter="blur(1.5px)";});
});
</script></body></html>
